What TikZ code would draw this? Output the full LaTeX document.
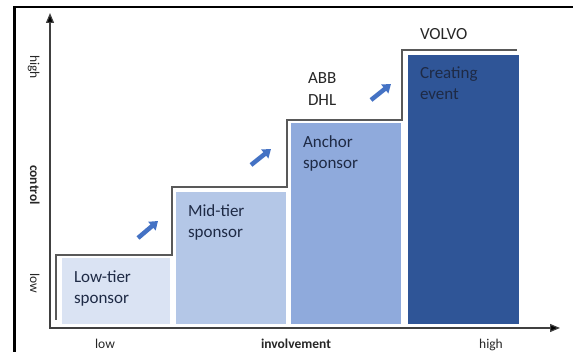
\documentclass[tikz,border=0pt]{standalone}
\usepackage{fontspec}
\setmainfont{Carlito}
\usetikzlibrary{arrows.meta}
\definecolor{tierA}{HTML}{DAE3F3}
\definecolor{tierB}{HTML}{B4C7E7}
\definecolor{tierC}{HTML}{8FAADC}
\definecolor{tierD}{HTML}{2F5597}
\definecolor{stepgray}{HTML}{595959}
\definecolor{axisgray}{HTML}{404040}
\definecolor{boxtext}{HTML}{1E2A45}
\definecolor{arrowblue}{HTML}{4472C4}
\definecolor{labeltext}{HTML}{262626}

\begin{document}
\begin{tikzpicture}[x=1pt,y=-1pt,every node/.style={inner sep=0pt,outer sep=0pt},
  box/.style={draw=none,rectangle},
  boxlabel/.style={anchor=north west,align=left,text=boxtext,font=\fontsize{17}{21}\selectfont},
  toplabel/.style={anchor=north west,align=left,text=labeltext,font=\fontsize{17}{22}\selectfont},
  axislabel/.style={anchor=base,text=labeltext,font=\fontsize{13.5}{16}\selectfont},
  climb/.style={arrowblue,line width=4.5pt,-{Triangle[length=8pt,width=11pt]}}]
\useasboundingbox (0,0) rectangle (573,352);
% frame
\draw[black,line width=2.5pt] (14.5,352) |- (573,7);
% tiers
\node[box,fill=tierA,minimum width=108pt,minimum height=66pt] (low) at (116,291){};
\node[box,fill=tierB,minimum width=110pt,minimum height=132pt] (mid) at (231,258){};
\node[box,fill=tierC,minimum width=110pt,minimum height=201pt] (anchor) at (346,223.5){};
\node[box,fill=tierD,minimum width=111pt,minimum height=269pt] (event) at (463.5,189.5){};
\node[boxlabel] (lowtxt) at ([shift={(12,13)}]low.north west){Low-tier\\sponsor};
\node[boxlabel] (midtxt) at ([shift={(12,13)}]mid.north west){Mid-tier\\sponsor};
\node[boxlabel] (anchortxt) at ([shift={(12,13)}]anchor.north west){Anchor\\sponsor};
\node[boxlabel] (eventtxt) at ([shift={(12,12)}]event.north west){Creating\\event};
% staircase outline
\draw[stepgray,line width=1.5pt] (56,320) |- (172,255) |- (287,187) |- (402,120) |- (517,50);
% brands
\node[toplabel] (abb) at (308,73){ABB\\DHL};
\node[toplabel] (volvo) at (420,28){VOLVO};
% axes
\draw[axisgray,line width=1.2pt,{Triangle[length=10pt,width=8pt,fill=black]}-{Triangle[length=10pt,width=8pt,fill=black]}] (50,13) |- (560,328);
\node[axislabel] (xlow) at (105,348.5){low};
\node[axislabel,font=\fontsize{13.5}{16}\selectfont\bfseries] (xname) at (296,348.5){involvement};
\node[axislabel] (xhigh) at (491,348.5){high};
\node[axislabel,rotate=-90] (yhigh) at (30,67){high};
\node[axislabel,rotate=-90,font=\fontsize{13.5}{16}\selectfont\bfseries] (yname) at (30,185){control};
\node[axislabel,rotate=-90] (ylow) at (30,283){low};
% arrows between tiers
\draw[climb] (138,238) -- (158,221);
\draw[climb] (251,165) -- (271,149);
\draw[climb] (371,100) -- (391,84);
\end{tikzpicture}
\end{document}
